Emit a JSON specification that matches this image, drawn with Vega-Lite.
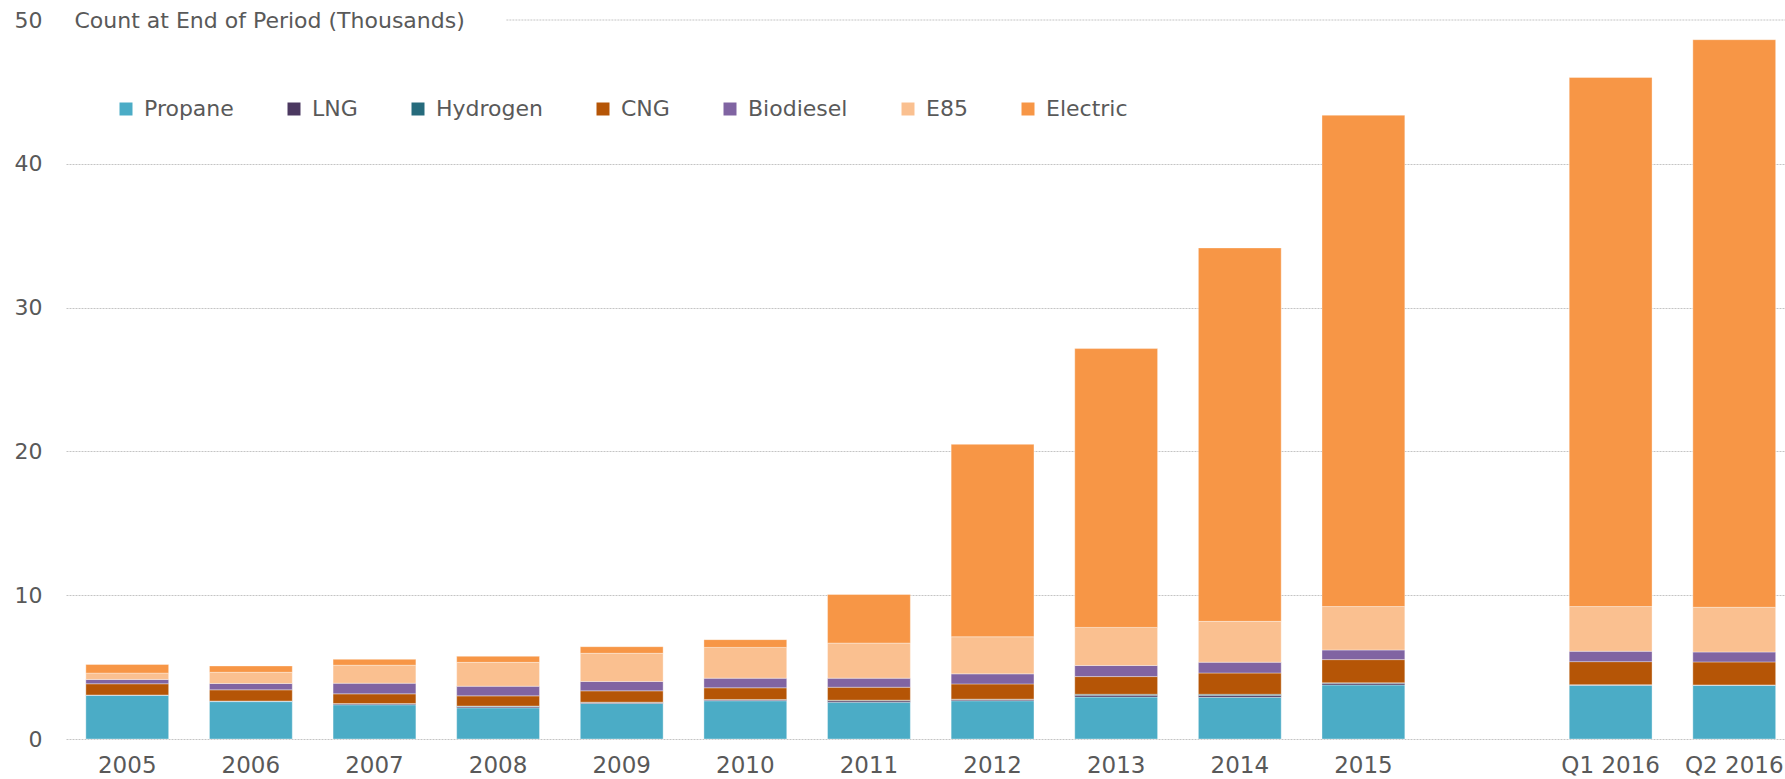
{
  "$schema": "https://vega.github.io/schema/vega-lite/v6.json",
  "width": 1719,
  "height": 719,
  "autosize": {"type": "none"},
  "padding": {"left": 66, "top": 20, "right": 0, "bottom": 40},
  "background": "white",
  "config": {
    "font": "DejaVu Sans",
    "view": {"stroke": null},
    "axis": {"labelColor": "#595959", "titleColor": "#595959", "labelFont": "DejaVu Sans", "titleFont": "DejaVu Sans"},
    "legend": {"labelFont": "DejaVu Sans"}
  },
  "layer": [
    {
      "data": {
        "values": [
          {"period": "2005", "fuel": "Propane", "count": 3.03},
          {"period": "2005", "fuel": "LNG", "count": 0.02},
          {"period": "2005", "fuel": "Hydrogen", "count": 0.01},
          {"period": "2005", "fuel": "CNG", "count": 0.78},
          {"period": "2005", "fuel": "Biodiesel", "count": 0.30},
          {"period": "2005", "fuel": "E85", "count": 0.44},
          {"period": "2005", "fuel": "Electric", "count": 0.60},
          {"period": "2006", "fuel": "Propane", "count": 2.60},
          {"period": "2006", "fuel": "LNG", "count": 0.03},
          {"period": "2006", "fuel": "Hydrogen", "count": 0.01},
          {"period": "2006", "fuel": "CNG", "count": 0.78},
          {"period": "2006", "fuel": "Biodiesel", "count": 0.44},
          {"period": "2006", "fuel": "E85", "count": 0.78},
          {"period": "2006", "fuel": "Electric", "count": 0.44},
          {"period": "2007", "fuel": "Propane", "count": 2.38},
          {"period": "2007", "fuel": "LNG", "count": 0.07},
          {"period": "2007", "fuel": "Hydrogen", "count": 0.02},
          {"period": "2007", "fuel": "CNG", "count": 0.67},
          {"period": "2007", "fuel": "Biodiesel", "count": 0.74},
          {"period": "2007", "fuel": "E85", "count": 1.25},
          {"period": "2007", "fuel": "Electric", "count": 0.41},
          {"period": "2008", "fuel": "Propane", "count": 2.17},
          {"period": "2008", "fuel": "LNG", "count": 0.09},
          {"period": "2008", "fuel": "Hydrogen", "count": 0.03},
          {"period": "2008", "fuel": "CNG", "count": 0.71},
          {"period": "2008", "fuel": "Biodiesel", "count": 0.67},
          {"period": "2008", "fuel": "E85", "count": 1.66},
          {"period": "2008", "fuel": "Electric", "count": 0.42},
          {"period": "2009", "fuel": "Propane", "count": 2.47},
          {"period": "2009", "fuel": "LNG", "count": 0.06},
          {"period": "2009", "fuel": "Hydrogen", "count": 0.03},
          {"period": "2009", "fuel": "CNG", "count": 0.79},
          {"period": "2009", "fuel": "Biodiesel", "count": 0.65},
          {"period": "2009", "fuel": "E85", "count": 1.96},
          {"period": "2009", "fuel": "Electric", "count": 0.46},
          {"period": "2010", "fuel": "Propane", "count": 2.66},
          {"period": "2010", "fuel": "LNG", "count": 0.06},
          {"period": "2010", "fuel": "Hydrogen", "count": 0.03},
          {"period": "2010", "fuel": "CNG", "count": 0.81},
          {"period": "2010", "fuel": "Biodiesel", "count": 0.67},
          {"period": "2010", "fuel": "E85", "count": 2.14},
          {"period": "2010", "fuel": "Electric", "count": 0.54},
          {"period": "2011", "fuel": "Propane", "count": 2.56},
          {"period": "2011", "fuel": "LNG", "count": 0.10},
          {"period": "2011", "fuel": "Hydrogen", "count": 0.04},
          {"period": "2011", "fuel": "CNG", "count": 0.90},
          {"period": "2011", "fuel": "Biodiesel", "count": 0.63},
          {"period": "2011", "fuel": "E85", "count": 2.44},
          {"period": "2011", "fuel": "Electric", "count": 3.38},
          {"period": "2012", "fuel": "Propane", "count": 2.66},
          {"period": "2012", "fuel": "LNG", "count": 0.08},
          {"period": "2012", "fuel": "Hydrogen", "count": 0.03},
          {"period": "2012", "fuel": "CNG", "count": 1.06},
          {"period": "2012", "fuel": "Biodiesel", "count": 0.70},
          {"period": "2012", "fuel": "E85", "count": 2.58},
          {"period": "2012", "fuel": "Electric", "count": 13.38},
          {"period": "2013", "fuel": "Propane", "count": 2.92},
          {"period": "2013", "fuel": "LNG", "count": 0.12},
          {"period": "2013", "fuel": "Hydrogen", "count": 0.07},
          {"period": "2013", "fuel": "CNG", "count": 1.23},
          {"period": "2013", "fuel": "Biodiesel", "count": 0.77},
          {"period": "2013", "fuel": "E85", "count": 2.65},
          {"period": "2013", "fuel": "Electric", "count": 19.39},
          {"period": "2014", "fuel": "Propane", "count": 2.90},
          {"period": "2014", "fuel": "LNG", "count": 0.12},
          {"period": "2014", "fuel": "Hydrogen", "count": 0.09},
          {"period": "2014", "fuel": "CNG", "count": 1.48},
          {"period": "2014", "fuel": "Biodiesel", "count": 0.75},
          {"period": "2014", "fuel": "E85", "count": 2.84},
          {"period": "2014", "fuel": "Electric", "count": 25.97},
          {"period": "2015", "fuel": "Propane", "count": 3.76},
          {"period": "2015", "fuel": "LNG", "count": 0.12},
          {"period": "2015", "fuel": "Hydrogen", "count": 0.03},
          {"period": "2015", "fuel": "CNG", "count": 1.61},
          {"period": "2015", "fuel": "Biodiesel", "count": 0.67},
          {"period": "2015", "fuel": "E85", "count": 3.02},
          {"period": "2015", "fuel": "Electric", "count": 34.17},
          {"period": "Q1 2016", "fuel": "Propane", "count": 3.74},
          {"period": "Q1 2016", "fuel": "LNG", "count": 0.02},
          {"period": "Q1 2016", "fuel": "Hydrogen", "count": 0.02},
          {"period": "Q1 2016", "fuel": "CNG", "count": 1.60},
          {"period": "Q1 2016", "fuel": "Biodiesel", "count": 0.72},
          {"period": "Q1 2016", "fuel": "E85", "count": 3.11},
          {"period": "Q1 2016", "fuel": "Electric", "count": 36.79},
          {"period": "Q2 2016", "fuel": "Propane", "count": 3.72},
          {"period": "Q2 2016", "fuel": "LNG", "count": 0.02},
          {"period": "Q2 2016", "fuel": "Hydrogen", "count": 0.02},
          {"period": "Q2 2016", "fuel": "CNG", "count": 1.60},
          {"period": "Q2 2016", "fuel": "Biodiesel", "count": 0.69},
          {"period": "Q2 2016", "fuel": "E85", "count": 3.11},
          {"period": "Q2 2016", "fuel": "Electric", "count": 39.47}
        ]
      },
      "transform": [
        {"calculate": "indexof(['Propane','LNG','Hydrogen','CNG','Biodiesel','E85','Electric'], datum.fuel)", "as": "k"}
      ],
      "mark": {"type": "bar", "stroke": "white", "strokeOpacity": 0.35, "strokeWidth": 1},
      "encoding": {
        "x": {
          "field": "period",
          "type": "nominal",
          "scale": {
            "domain": ["2005", "2006", "2007", "2008", "2009", "2010", "2011", "2012", "2013", "2014", "2015", " ", "Q1 2016", "Q2 2016"],
            "paddingInner": 0.33,
            "paddingOuter": 0.118,
            "align": 0.68
          },
          "axis": {
            "title": null,
            "domain": false,
            "ticks": false,
            "labelAngle": 0,
            "labelFontSize": 23,
            "labelPadding": 15,
            "labelColor": "#595959"
          }
        },
        "y": {
          "field": "count",
          "type": "quantitative",
          "stack": "zero",
          "scale": {"domain": [0, 50], "nice": false, "zero": true},
          "axis": {
            "title": "Count at End of Period (Thousands)",
            "titleAngle": 0,
            "titleX": 8,
            "titleY": 0,
            "titleAlign": "left",
            "titleBaseline": "middle",
            "titleFontSize": 22,
            "titleFontWeight": "normal",
            "titleColor": "#595959",
            "values": [0, 10, 20, 30, 40, 50],
            "domain": false,
            "ticks": false,
            "labelFontSize": 22,
            "labelPadding": 24,
            "labelColor": "#595959",
            "grid": true,
            "gridColor": "#c4c4c4",
            "gridDash": [2, 1],
            "gridWidth": 1,
            "gridOpacity": {"condition": {"test": "datum.value === 50", "value": 0}, "value": 1}
          }
        },
        "color": {
          "field": "fuel",
          "type": "nominal",
          "scale": {
            "domain": ["Propane", "LNG", "Hydrogen", "CNG", "Biodiesel", "E85", "Electric"],
            "range": ["#4bacc6", "#4b3860", "#266b7c", "#b55506", "#8064a2", "#fac090", "#f79646"]
          },
          "legend": {
            "title": null,
            "orient": "none",
            "legendX": 49,
            "legendY": 78,
            "direction": "horizontal",
            "columns": 7,
            "symbolType": "square",
            "symbolSize": 169,
            "symbolStrokeWidth": 0,
            "labelFontSize": 22,
            "labelColor": "#595959",
            "labelOffset": 7,
            "columnPadding": 49,
            "padding": 0
          }
        },
        "order": {"field": "k", "type": "quantitative", "sort": "ascending"}
      }
    },
    {
      "data": {"values": [{"g": 1}]},
      "mark": {"type": "rule", "color": "#c4c4c4", "strokeDash": [2, 1], "strokeWidth": 1},
      "encoding": {
        "y": {"datum": 50, "type": "quantitative"},
        "x": {"datum": "2008", "type": "nominal", "bandPosition": 0.6},
        "x2": {"datum": "Q2 2016", "bandPosition": 1.12}
      }
    }
  ]
}
